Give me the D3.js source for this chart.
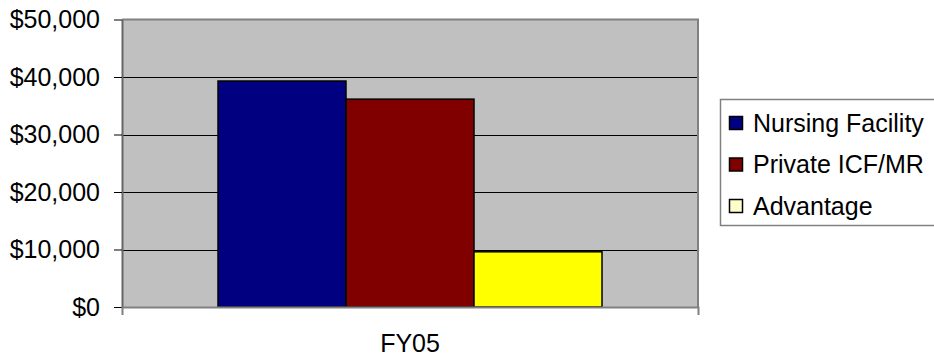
<!DOCTYPE html>
<html>
<head>
<meta charset="utf-8">
<script src="https://cdn.jsdelivr.net/npm/d3@7/dist/d3.min.js"></script>
<style>
  html, body { margin: 0; padding: 0; background: #fff; }
  svg { display: block; font-family: "Liberation Sans", Arial, sans-serif; }
</style>
</head>
<body>
<svg id="chart" width="934" height="360"></svg>
<script>
// Chart data
const categories = ["FY05"];
const seriesNames = ["Nursing Facility", "Private ICF/MR", "Advantage"];
const seriesValues = [39300, 36150, 9600];
const barColors = ["#000080", "#800000", "#FFFF00"];
const legendColors = ["#000080", "#800000", "#FFFFCC"];
const yTickValues = [0, 10000, 20000, 30000, 40000, 50000];

const svg = d3.select("#chart");

// Plot area
const plot = { left: 122, right: 698, top: 19.5, bottom: 307 };

const y = d3.scaleLinear()
  .domain([0, 50000])
  .range([plot.bottom, plot.top]);

const x = d3.scaleBand()
  .domain(categories)
  .range([plot.left, plot.right])
  .padding(0);

// Gap width of 150% of one bar on each side of the cluster
const barW = x.bandwidth() / (seriesNames.length + 1.5);
const xs = d3.scaleBand()
  .domain(seriesNames)
  .range([0.75 * barW, x.bandwidth() - 0.75 * barW])
  .padding(0);

// Background
svg.append("rect")
  .attr("x", plot.left).attr("y", plot.top)
  .attr("width", plot.right - plot.left)
  .attr("height", plot.bottom - plot.top)
  .attr("fill", "#C0C0C0");

// Gridlines
svg.append("g")
  .selectAll("line")
  .data(yTickValues.filter(v => v > 0 && v < 50000))
  .join("line")
  .attr("x1", plot.left).attr("x2", plot.right)
  .attr("y1", d => Math.round(y(d)) + 0.5)
  .attr("y2", d => Math.round(y(d)) + 0.5)
  .attr("stroke", "#000")
  .attr("stroke-width", 1);

// Plot border (top and right)
svg.append("path")
  .attr("d", `M${plot.left},${plot.top} H${plot.right} V${plot.bottom}`)
  .attr("fill", "none")
  .attr("stroke", "#808080")
  .attr("stroke-width", 2);

// Bars
const groups = svg.append("g")
  .selectAll("g")
  .data(categories)
  .join("g")
  .attr("transform", d => `translate(${x(d)},0)`);

groups.selectAll("rect")
  .data(() => seriesNames.map((s, si) => ({ s, si, v: seriesValues[si] })))
  .join("rect")
  .attr("x", d => xs(d.s))
  .attr("y", d => y(d.v))
  .attr("width", xs.bandwidth())
  .attr("height", d => y(0) - y(d.v))
  .attr("fill", d => barColors[d.si])
  .attr("stroke", "#000")
  .attr("stroke-width", 1.5);

// Y axis
const yAxis = d3.axisLeft(y)
  .tickValues(yTickValues)
  .tickFormat(d3.format("$,"))
  .tickSize(8)
  .tickSizeOuter(0)
  .tickPadding(14);

const gy = svg.append("g")
  .attr("transform", `translate(${plot.left},0)`)
  .call(yAxis);
gy.select(".domain").attr("stroke", "#666").attr("stroke-width", 2);
gy.selectAll(".tick line").attr("stroke", "#000");
gy.selectAll(".tick text")
  .attr("font-size", 25)
  .attr("fill", "#000")
  .attr("font-family", "Liberation Sans, Arial, sans-serif");

// X axis
const xAxis = d3.axisBottom(x)
  .tickSize(0)
  .tickSizeOuter(8)
  .tickPadding(27);
const gx = svg.append("g")
  .attr("transform", `translate(0,${plot.bottom})`)
  .call(xAxis);
gx.select(".domain").attr("stroke", "#808080").attr("stroke-width", 2);
gx.selectAll(".tick text")
  .attr("font-size", 25)
  .attr("fill", "#000")
  .attr("font-family", "Liberation Sans, Arial, sans-serif");

// Legend
const legend = svg.append("g");
legend.append("rect")
  .attr("x", 720.5).attr("y", 99.5)
  .attr("width", 230).attr("height", 126)
  .attr("fill", "#fff")
  .attr("stroke", "#808080")
  .attr("stroke-width", 1.5);

const ly = d3.scalePoint()
  .domain(seriesNames)
  .range([123, 206]);

const items = legend.selectAll("g.item")
  .data(seriesNames)
  .join("g")
  .attr("class", "item")
  .attr("transform", d => `translate(0,${ly(d)})`);

items.append("rect")
  .attr("x", 729.5).attr("y", -6.5)
  .attr("width", 13).attr("height", 13)
  .attr("fill", (d, i) => legendColors[i])
  .attr("stroke", "#000")
  .attr("stroke-width", 1.5);

items.append("text")
  .attr("x", 753)
  .attr("y", 0)
  .attr("dy", "0.35em")
  .attr("font-size", 25)
  .attr("fill", "#000")
  .text(d => d);
</script>
</body>
</html>
